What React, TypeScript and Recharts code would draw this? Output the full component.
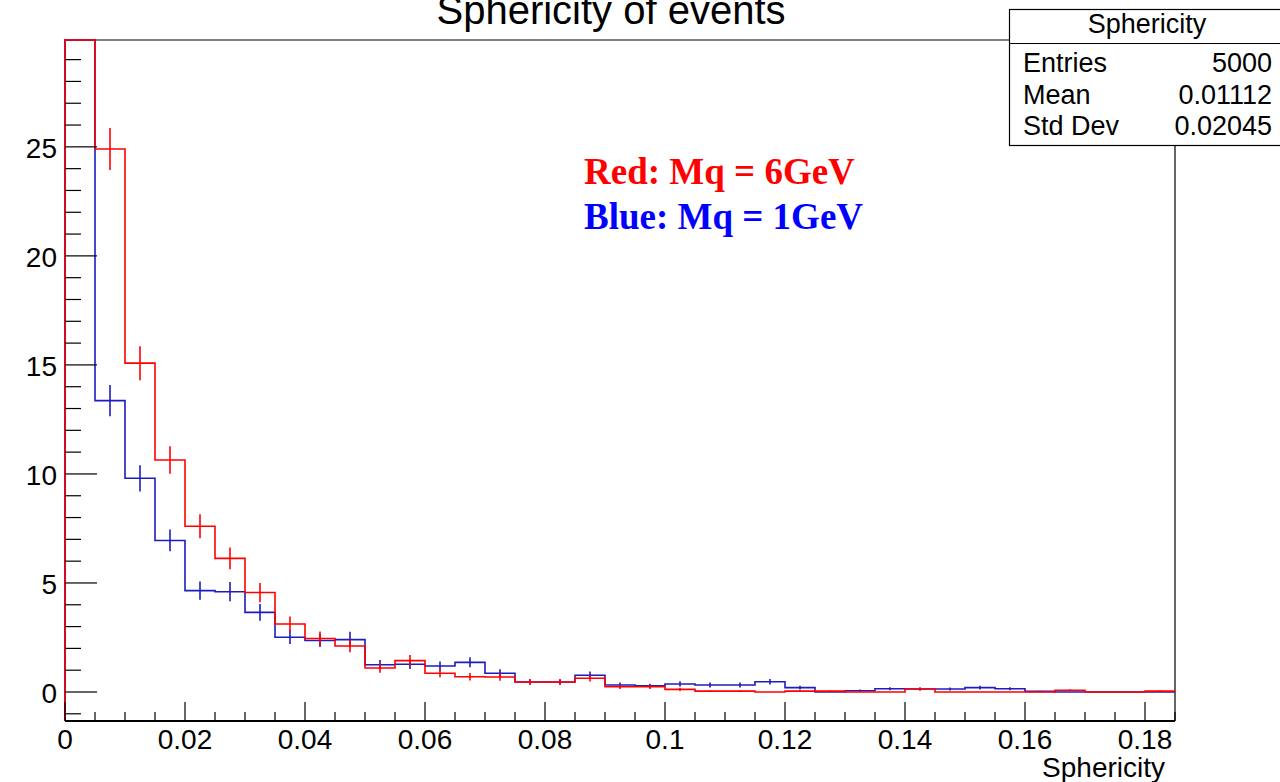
import React from 'react';
import {
  ComposedChart,
  Line,
  Scatter,
  ErrorBar,
  XAxis,
  YAxis,
} from 'recharts';

// Гистограммы сферичности: 37 бинов по 0.005 от 0 до 0.185
const BIN_WIDTH = 0.005;
const X_MAX = 0.185;
const Y_MIN = -1.33;
const Y_MAX = 29.9;

// Mq = 6 ГэВ (красная)
const RED_VALUES = [
  131, 24.9, 15.08, 10.64, 7.6, 6.13, 4.56, 3.12, 2.45, 2.11, 1.1, 1.44, 0.86,
  0.7, 0.69, 0.46, 0.46, 0.63, 0.24, 0.24, 0.12, 0.04, 0.04, 0, 0.04, 0.04, 0,
  0, 0.14, 0, 0, 0, 0, 0.08, 0, 0, 0.04,
];
const RED_ERRORS = [
  2.3, 0.96, 0.78, 0.63, 0.55, 0.5, 0.44, 0.34, 0.32, 0.29, 0.22, 0.26, 0.18,
  0.17, 0.17, 0.13, 0.13, 0.15, 0.1, 0.1, 0.07, 0.04, 0.04, 0, 0.04, 0.04, 0,
  0, 0.07, 0, 0, 0, 0, 0.05, 0, 0, 0.04,
];

// Mq = 1 ГэВ (синяя)
const BLUE_VALUES = [
  150, 13.36, 9.8, 6.95, 4.65, 4.6, 3.65, 2.51, 2.36, 2.4, 1.25, 1.27, 1.19,
  1.36, 0.86, 0.46, 0.46, 0.77, 0.32, 0.28, 0.37, 0.32, 0.32, 0.47, 0.2, 0,
  0.06, 0.15, 0.14, 0.14, 0.2, 0.15, 0.03, 0, 0, 0, 0,
];
const BLUE_ERRORS = [
  2.5, 0.72, 0.6, 0.5, 0.42, 0.44, 0.38, 0.31, 0.3, 0.36, 0.22, 0.22, 0.21,
  0.23, 0.18, 0.13, 0.13, 0.17, 0.11, 0.1, 0.12, 0.11, 0.11, 0.13, 0.09, 0,
  0.05, 0.07, 0.07, 0.07, 0.09, 0.07, 0.03, 0, 0, 0, 0,
];

const X_MAJOR = [0, 0.02, 0.04, 0.06, 0.08, 0.1, 0.12, 0.14, 0.16, 0.18];
const X_LABELS = ['0', '0.02', '0.04', '0.06', '0.08', '0.1', '0.12', '0.14', '0.16', '0.18'];
const Y_MAJOR = [0, 5, 10, 15, 20, 25];
const Y_LABELS = ['0', '5', '10', '15', '20', '25'];

const STATS = [
  ['Entries', '5000'],
  ['Mean', '0.01112'],
  ['Std Dev', '0.02045'],
];

const RED = '#ff0000';
const BLUE = '#1c1cc0';
const FONT = '"Liberation Sans", Arial, Helvetica, sans-serif';
const SERIF = '"Liberation Serif", "Times New Roman", serif';

// рамка области построения в пикселях
const FRAME = { left: 65, top: 40, right: 1175, bottom: 721 };

// мелкие деления: каждый бин по X, каждая единица по Y
const X_TICKS = Array.from({ length: RED_VALUES.length + 1 }, (_, i) => i * BIN_WIDTH);
const Y_TICKS: number[] = [];
for (let t = Math.ceil(Y_MIN); t <= Math.floor(Y_MAX); t++) Y_TICKS.push(t);

// как в ROOT: зашкаливающий бин рисуется по верхней границе рамки
const clampY = (v: number) => Math.min(v, Y_MAX);

// ступенчатая линия: подъём от низа рамки, затем по левым краям бинов
const stepPoints = (values: number[]) => {
  const pts = [{ x: 0, v: Y_MIN }];
  values.forEach((v, i) => pts.push({ x: i * BIN_WIDTH, v: clampY(v) }));
  pts.push({ x: values.length * BIN_WIDTH, v: clampY(values[values.length - 1]) });
  return pts;
};

// ошибки в центрах бинов, пустые и зашкаливающие бины пропускаем
const errorPoints = (values: number[], errors: number[]) =>
  values
    .map((v, i) => ({ x: (i + 0.5) * BIN_WIDTH, v, err: errors[i] }))
    .filter((p) => p.err > 0 && p.v < Y_MAX);

const redSteps = stepPoints(RED_VALUES);
const blueSteps = stepPoints(BLUE_VALUES);
const redErrors = errorPoints(RED_VALUES, RED_ERRORS);
const blueErrors = errorPoints(BLUE_VALUES, BLUE_ERRORS);

const majorIndex = (list: number[], value: number) =>
  list.findIndex((m) => Math.abs(m - value) < 1e-9);

const XTick = ({ x, y, payload }: any) => {
  const k = majorIndex(X_MAJOR, payload.value);
  return (
    <g>
      <line x1={x} x2={x} y1={y} y2={y - (k >= 0 ? 19 : 9)} stroke="#000" strokeWidth={1.2} />
      {k >= 0 && (
        <text x={x} y={y + 28} textAnchor="middle" fontFamily={FONT} fontSize={28} fill="#000">
          {X_LABELS[k]}
        </text>
      )}
    </g>
  );
};

const YTick = ({ x, y, payload }: any) => {
  const k = majorIndex(Y_MAJOR, payload.value);
  return (
    <g>
      <line x1={x} x2={x + (k >= 0 ? 32 : 16)} y1={y} y2={y} stroke="#000" strokeWidth={1.2} />
      {k >= 0 && (
        <text x={x - 8} y={y + 11} textAnchor="end" fontFamily={FONT} fontSize={28} fill="#000">
          {Y_LABELS[k]}
        </text>
      )}
    </g>
  );
};

const NoMarker = () => <g />;

export default function App() {
  return (
    <div style={{ position: 'absolute', left: 0, top: 0, width: 1280, height: 782, background: '#fff' }}>
      {/* рамка под графиком, чтобы края гистограмм ложились поверх */}
      <svg width={1280} height={782} style={{ position: 'absolute', left: 0, top: 0 }}>
        <polyline
          points={`${FRAME.left},${FRAME.bottom} ${FRAME.left},${FRAME.top} ${FRAME.right},${FRAME.top} ${FRAME.right},${FRAME.bottom}`}
          fill="none"
          stroke="#000"
          strokeWidth={1.2}
        />
      </svg>

      <div style={{ position: 'absolute', left: 0, top: 0 }}>
        <ComposedChart width={1280} height={782} margin={{ top: 40, right: 105, left: 0, bottom: 0 }}>
          <XAxis
            type="number"
            dataKey="x"
            domain={[0, X_MAX]}
            ticks={X_TICKS}
            interval={0}
            tickLine={false}
            tickSize={0}
            tickMargin={0}
            tick={<XTick />}
            height={61}
            axisLine={{ stroke: '#000', strokeWidth: 2 }}
          />
          <YAxis
            type="number"
            domain={[Y_MIN, Y_MAX]}
            ticks={Y_TICKS}
            interval={0}
            tickLine={false}
            tickSize={0}
            tickMargin={0}
            tick={<YTick />}
            width={65}
            axisLine={false}
          />
          <Line
            data={blueSteps}
            dataKey="v"
            type="stepAfter"
            stroke={BLUE}
            strokeWidth={1.6}
            dot={false}
            activeDot={false}
            isAnimationActive={false}
          />
          <Scatter data={blueErrors} dataKey="v" shape={<NoMarker />} isAnimationActive={false}>
            <ErrorBar dataKey="err" direction="y" width={0} stroke={BLUE} strokeWidth={1.6} isAnimationActive={false} />
          </Scatter>
          <Line
            data={redSteps}
            dataKey="v"
            type="stepAfter"
            stroke={RED}
            strokeWidth={1.6}
            dot={false}
            activeDot={false}
            isAnimationActive={false}
          />
          <Scatter data={redErrors} dataKey="v" shape={<NoMarker />} isAnimationActive={false}>
            <ErrorBar dataKey="err" direction="y" width={0} stroke={RED} strokeWidth={1.6} isAnimationActive={false} />
          </Scatter>
        </ComposedChart>
      </div>

      <svg width={1280} height={782} style={{ position: 'absolute', left: 0, top: 0, pointerEvents: 'none' }}>
        <text x={611} y={24} textAnchor="middle" fontFamily={FONT} fontSize={40} fill="#000">
          Sphericity of events
        </text>

        <text x={584} y={184} fontFamily={SERIF} fontWeight="bold" fontSize={37} fill="#ff0000">
          Red: Mq = 6GeV
        </text>
        <text x={584} y={229} fontFamily={SERIF} fontWeight="bold" fontSize={37} fill="#0000ff">
          Blue: Mq = 1GeV
        </text>

        <rect x={1009.5} y={9.5} width={290} height={136} fill="#fff" stroke="#000" strokeWidth={1.2} />
        <line x1={1009.5} x2={1280} y1={43.5} y2={43.5} stroke="#000" strokeWidth={1.2} />
        <text x={1147} y={33} textAnchor="middle" fontFamily={FONT} fontSize={27} fill="#000">
          Sphericity
        </text>
        {STATS.map(([label, value], i) => (
          <g key={label}>
            <text x={1023} y={72 + i * 31.5} fontFamily={FONT} fontSize={27} fill="#000">
              {label}
            </text>
            <text x={1272} y={72 + i * 31.5} textAnchor="end" fontFamily={FONT} fontSize={27} fill="#000">
              {value}
            </text>
          </g>
        ))}

        <text x={1165} y={777} textAnchor="end" fontFamily={FONT} fontSize={28} fill="#000">
          Sphericity
        </text>
      </svg>
    </div>
  );
}
